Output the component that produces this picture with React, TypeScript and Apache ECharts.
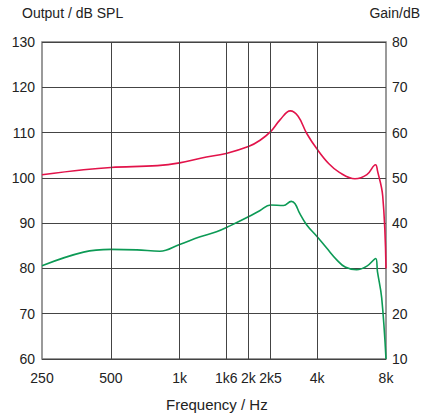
import React, { useEffect, useRef } from "react";
import * as echarts from "echarts";

// Frequency ticks (Hz) and their printed labels
const freqTicks = [250, 500, 1000, 1600, 2000, 2500, 4000, 8000];
const freqLabels = ["250", "500", "1k", "1k6", "2k", "2k5", "4k", "8k"];

// Output level, dB SPL (left axis)
const outputFreq = [250, 380, 500, 800, 1000, 1250, 1600, 2000, 2250, 2500, 2750, 3050, 3300, 3600, 4000, 4500, 5000, 5850, 6600, 7200, 7340, 7740, 8000];
const outputDb = [100.7, 101.8, 102.3, 102.7, 103.3, 104.4, 105.4, 106.9, 108.3, 110.2, 112.8, 114.8, 113.6, 109.8, 106.3, 103.1, 101.2, 99.8, 100.7, 102.9, 101.6, 96.0, 80.0];

// Gain, dB (right axis)
const gainFreq = [250, 380, 500, 650, 820, 1000, 1230, 1450, 1660, 2000, 2250, 2500, 2850, 3080, 3200, 3350, 3600, 4000, 4400, 4870, 5300, 5950, 6600, 7210, 7340, 7660, 8000];
const gainDb = [30.6, 33.6, 34.2, 34.1, 33.8, 35.3, 37.0, 38.1, 39.4, 41.4, 42.8, 44.0, 43.9, 44.8, 44.3, 42.2, 39.6, 37.0, 34.5, 31.9, 30.3, 29.7, 30.5, 32.2, 29.3, 23.5, 10.0];

const FONT = "'Liberation Sans', Arial, sans-serif";

export default function App() {
  const ref = useRef<HTMLDivElement>(null);

  useEffect(() => {
    if (!ref.current) return;
    const chart = echarts.init(ref.current, undefined, { renderer: "svg" });
    const labelFor = (v: number) => {
      const i = freqTicks.findIndex((t) => Math.abs(t - v) < 1);
      return i >= 0 ? freqLabels[i] : "";
    };
    chart.setOption({
      animation: false,
      backgroundColor: "#fff",
      textStyle: { fontFamily: FONT },
      grid: {
        left: 42,
        right: 48,
        top: 42,
        bottom: 60,
        show: true,
        borderColor: "#7a7a7a",
        borderWidth: 1.5,
      },
      xAxis: {
        type: "log",
        logBase: 2,
        min: 250,
        max: 8000,
        axisLine: { show: false },
        axisTick: { show: false, customValues: freqTicks },
        axisLabel: {
          customValues: freqTicks,
          formatter: (v: number) => labelFor(v),
          color: "#222",
          fontSize: 14,
          margin: 12,
          fontFamily: FONT,
        },
        splitLine: { show: false },
      },
      yAxis: [
        {
          type: "value",
          min: 60,
          max: 130,
          interval: 10,
          axisLine: { show: false },
          axisTick: { show: false },
          axisLabel: { color: "#222", fontSize: 14, margin: 7, fontFamily: FONT },
          splitLine: { show: true, lineStyle: { color: "#444", width: 1 } },
        },
        {
          type: "value",
          min: 10,
          max: 80,
          interval: 10,
          position: "right",
          axisLine: { show: false },
          axisTick: { show: false },
          axisLabel: { color: "#222", fontSize: 14, margin: 6, fontFamily: FONT },
          splitLine: { show: false },
        },
      ],
      graphic: [
        { type: "text", left: 22, top: 6, style: { text: "Output / dB SPL", fontSize: 14, fill: "#222", fontFamily: FONT } },
        { type: "text", right: 14, top: 6, style: { text: "Gain/dB", fontSize: 14, fill: "#222", fontFamily: FONT } },
        { type: "text", left: 166, top: 397, style: { text: "Frequency / Hz", fontSize: 15, fill: "#222", fontFamily: FONT } },
      ],
      series: [
        {
          type: "line",
          name: "grid",
          data: [],
          silent: true,
          markLine: {
            silent: true,
            symbol: "none",
            label: { show: false },
            lineStyle: { color: "#444", width: 1, type: "solid" },
            data: freqTicks.slice(1, -1).map((f) => ({ xAxis: f })),
          },
        },
        {
          type: "line",
          name: "Output",
          yAxisIndex: 0,
          data: outputFreq.map((f, i) => [f, outputDb[i]]),
          showSymbol: false,
          smooth: 0.4,
          lineStyle: { color: "#e2134a", width: 1.6 },
          itemStyle: { color: "#e2134a" },
          z: 3,
        },
        {
          type: "line",
          name: "Gain",
          yAxisIndex: 1,
          data: gainFreq.map((f, i) => [f, gainDb[i]]),
          showSymbol: false,
          smooth: 0.4,
          lineStyle: { color: "#0c9a55", width: 1.6 },
          itemStyle: { color: "#0c9a55" },
          z: 3,
        },
      ],
    });
    return () => chart.dispose();
  }, []);

  return <div ref={ref} style={{ width: 434, height: 419, position: "absolute", left: 0, top: 0 }} />;
}
